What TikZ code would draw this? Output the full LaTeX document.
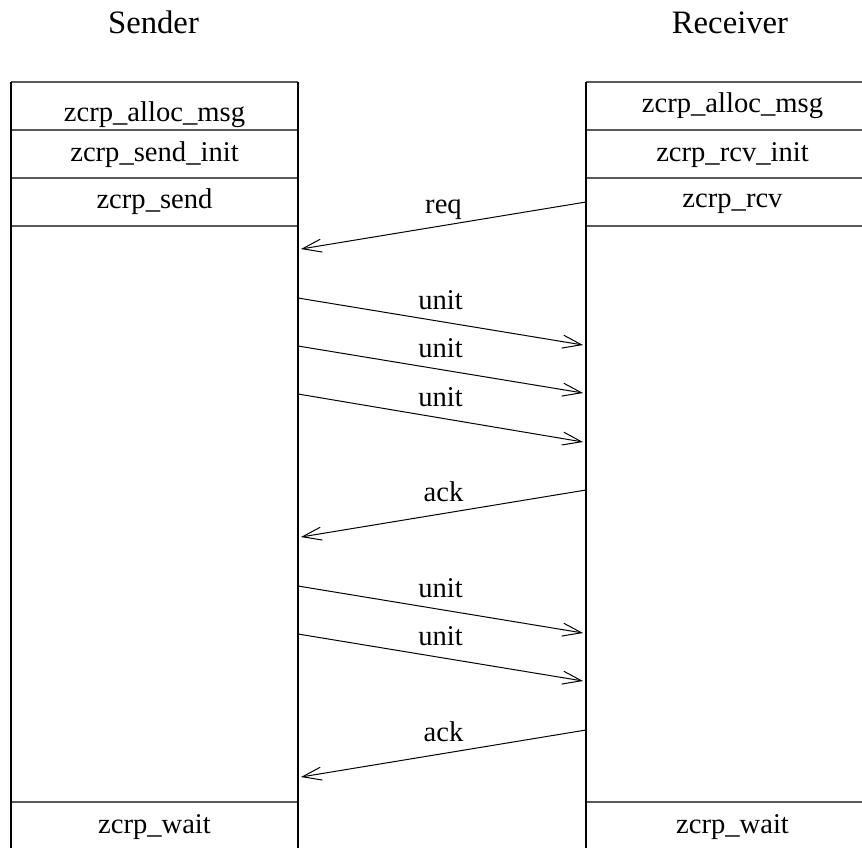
\documentclass[tikz,border=0pt]{standalone}
\usepackage{fontspec}
\setmainfont{Liberation Serif}
\usetikzlibrary{arrows.meta,positioning}

\tikzset{
  rowline/.style={draw=black!65, line width=1.6pt},
  lifeline/.style={draw=black, line width=1.3pt},
  msg/.style={draw=black, line width=1pt, -{Straight Barb[length=19pt,width=13pt,line width=1pt]}},
  rowlabel/.style={anchor=base, inner sep=0pt, font=\fontsize{28.6}{34}\selectfont},
  title/.style={anchor=base, inner sep=0pt, font=\fontsize{32.7}{39}\selectfont},
  msglabel/.style={anchor=base, inner sep=0pt, yshift=12pt, font=\fontsize{28.6}{34}\selectfont}
}

\begin{document}
\begin{tikzpicture}[x=1pt,y=-1pt]
\clip (0,0) rectangle (862,848);

\node[title] (tS) at (153.5,34) {Sender};
\node[title] (tR) at (730,34) {Receiver};

% rows of both boxes
\foreach \y in {82,130,178,226,802} {
\draw[rowline] (11,\y) -- (298,\y);
\draw[rowline] (586,\y) -- (880,\y);
}
\draw[lifeline] (11,82) -- (11,860);
\draw[lifeline] (298,82) -- (298,860);
\draw[lifeline] (586,82) -- (586,860);

\node[rowlabel] (s1) at (154.5,122) {zcrp\_alloc\_msg};
\node[rowlabel] (s2) at (154.5,161) {zcrp\_send\_init};
\node[rowlabel] (s3) at (154.5,208) {zcrp\_send};
\node[rowlabel] (s4) at (154.5,833) {zcrp\_wait};

\node[rowlabel] (r1) at (732.5,113) {zcrp\_alloc\_msg};
\node[rowlabel] (r2) at (732.5,161) {zcrp\_rcv\_init};
\node[rowlabel] (r3) at (732.5,207) {zcrp\_rcv};
\node[rowlabel] (r4) at (732.5,833) {zcrp\_wait};

% message ends
\coordinate (f0) at (586,202); \coordinate (t0) at (301,249);
\coordinate (f1) at (298,298); \coordinate (t1) at (583,345);
\coordinate (f2) at (298,346); \coordinate (t2) at (583,393);
\coordinate (f3) at (298,394); \coordinate (t3) at (583,442);
\coordinate (f4) at (586,490); \coordinate (t4) at (301,537);
\coordinate (f5) at (298,586); \coordinate (t5) at (583,633);
\coordinate (f6) at (298,634); \coordinate (t6) at (583,681);
\coordinate (f7) at (586,730); \coordinate (t7) at (301,777);

\foreach \i/\lab in {0/req,1/unit,2/unit,3/unit,4/ack,5/unit,6/unit,7/ack} {
\draw[msg] (f\i) -- node[msglabel] (l\i) {\lab} (t\i);
};
\end{tikzpicture}
\end{document}
